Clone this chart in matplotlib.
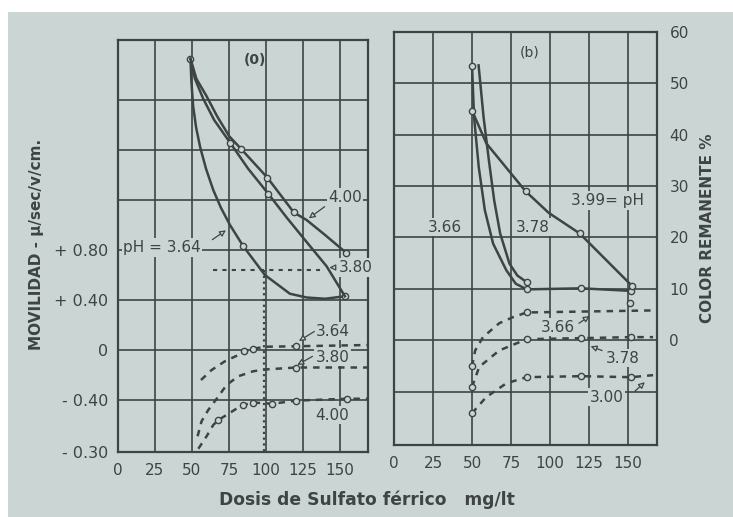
#!/usr/bin/env python3
"""Movilidad y color remanente vs dosis de sulfato ferrico (figura escaneada)."""
import matplotlib.pyplot as plt
from matplotlib.patches import Rectangle

PAPER = "#cbd6d4"
INK = "#3e4444"
plt.rcParams["font.family"] = ["DejaVu Sans"]

# ---- panel (a): movilidad, curvas solidas ----
a364_x = [49, 49.6, 50.8, 52.8, 55.6, 59.5, 64.4, 69.5, 75.7, 84.7, 99.3, 116.2,
          127.5, 140, 153.4]
a364_y = [2.33, 2.15, 1.95, 1.78, 1.62, 1.45, 1.28, 1.14, 1.00, 0.83, 0.60, 0.45,
          0.42, 0.41, 0.43]
a364_mk = [0, 9, 14]
a380_x = [49, 52, 57.6, 65, 75.7, 88, 101.6, 114, 126.4, 141, 153.4]
a380_y = [2.33, 2.17, 2.01, 1.84, 1.66, 1.45, 1.25, 1.06, 0.88, 0.67, 0.43]
a380_mk = [4, 6]
a400_x = [49, 53, 59.9, 67, 75.2, 83.1, 100.9, 118.9, 127.5, 140, 154]
a400_y = [2.33, 2.17, 2.03, 1.87, 1.71, 1.61, 1.38, 1.10, 1.04, 0.92, 0.78]
a400_mk = [5, 6, 7, 10]

# lineas punteadas de referencia
ref_h_x = [64, 136.5]
ref_h_y = [0.64, 0.64]
ref_v_x = [99, 99]
ref_v_y = [0.64, -0.816]

# ---- panel (a): movilidad, curvas discontinuas ----
m364_x = [56.1, 63.3, 72.3, 81.3, 85.3, 91.4, 99.3, 120.3, 170]
m364_y = [-0.24, -0.16, -0.09, -0.04, -0.01, 0.01, 0.026, 0.03, 0.04]
m364_mk = [4, 5, 7]
m380_x = [53.8, 56.5, 61, 66.7, 73.4, 81.3, 91.4, 100.5, 120.3, 170]
m380_y = [-0.69, -0.57, -0.48, -0.39, -0.28, -0.21, -0.17, -0.155, -0.14, -0.14]
m380_mk = [8]
m400_x = [54.3, 59.9, 64.4, 67.8, 73.4, 81.3, 84.7, 91.4, 104.3, 120.3, 154.7, 170]
m400_y = [-0.79, -0.69, -0.60, -0.56, -0.52, -0.46, -0.44, -0.42, -0.43, -0.405, -0.39, -0.39]
m400_mk = [3, 6, 7, 8, 9, 10]

# ---- panel (b): color remanente ----
b366_x = [50, 51.3, 54.3, 58.2, 63.5, 72, 78, 85, 120, 152]
b366_y = [53.4, 43.4, 33.7, 25.3, 18.8, 13.6, 11.0, 9.9, 10.1, 9.6]
b366_mk = [0, 7, 8, 9]
b378_x = [54.2, 57.4, 60.8, 64.2, 68.0, 74.0, 79.0, 85.0]
b378_y = [53.5, 43.4, 35.0, 27.2, 20.8, 14.9, 12.6, 11.3]
b378_mk = [7]
b399_x = [50, 59.2, 84.3, 99.1, 118.9, 152.4]
b399_y = [44.7, 38.3, 29.0, 24.8, 20.8, 10.6]
b399_mk = [0, 2, 4, 5]
b_extra_x = [151]
b_extra_y = [7.3]

# panel (b) discontinuas
d366_x = [50, 52, 57, 67.4, 76.3, 85, 166]
d366_y = [-5.1, -2.0, 0.6, 3.3, 4.5, 5.4, 5.8]
d366_mk = [0, 5]
d378_x = [50, 54.6, 67.4, 85, 120, 152, 166]
d378_y = [-9.1, -5.2, -2.0, 0.2, 0.4, 0.6, 0.6]
d378_mk = [0, 3, 4, 5]
d300_x = [50, 59, 71.9, 85, 120, 152, 166]
d300_y = [-14.2, -11.1, -8.4, -7.2, -7.0, -7.2, -6.8]
d300_mk = [0, 3, 4, 5]

x_ticks = [0, 25, 50, 75, 100, 125, 150]
a_ytick_pos = [-0.816, -0.4, 0, 0.4, 0.8]
a_ytick_lab = ["- 0.30", "- 0.40", "0", "+ 0.40", "+ 0.80"]
a_grid_y = [-0.4, 0, 0.4, 0.8, 1.2, 1.6, 2.0]
b_ytick_pos = [0, 10, 20, 30, 40, 50, 60]
b_grid_y = [-10, 0, 10, 20, 30, 40, 50]

DASH = (0, (2.6, 2.4))


def curve(ax, xs, ys, mk, ls="-"):
    ax.plot(xs, ys, linestyle=ls, color=INK, lw=1.8, zorder=3,
            marker="o", markevery=mk, ms=4.5, mfc=PAPER, mec=INK, mew=1.0)


def label(ax, x, y, s, **kw):
    ax.text(x, y, s, fontsize=11, color=INK, ha="center", va="center", zorder=5,
            bbox=dict(boxstyle="square,pad=0.1", fc=PAPER, ec="none"), **kw)


def arrow(ax, xy_from, xy_to):
    ax.annotate("", xy=xy_to, xytext=xy_from, zorder=5,
                arrowprops=dict(arrowstyle="-|>", color=INK, lw=0.9,
                                mutation_scale=9, fc=PAPER))


def frame(ax, xlim, ylim, grid_y):
    ax.set_facecolor("none")
    ax.set_xlim(*xlim)
    ax.set_ylim(*ylim)
    for x in x_ticks[1:]:
        ax.axvline(x, color=INK, lw=1.2, zorder=1)
    for y in grid_y:
        ax.axhline(y, color=INK, lw=1.2, zorder=1)
    for sp in ax.spines.values():
        sp.set_linewidth(1.6)
        sp.set_color(INK)
    ax.set_xticks(x_ticks)
    ax.set_xticklabels([str(v) for v in x_ticks])
    ax.tick_params(length=0, labelsize=11, labelcolor=INK, pad=8)


fig = plt.figure(figsize=(7.33, 5.17), dpi=100)
fig.patch.set_facecolor("white")
paper = Rectangle((8 / 733, 0), 1, 1 - 12 / 517, transform=fig.transFigure,
                  fc=PAPER, ec="none", zorder=-10)
fig.add_artist(paper)

# ---------------- panel (a) ----------------
ax_a = fig.add_axes([118 / 733, 1 - 452 / 517, 250 / 733, 412 / 517])
frame(ax_a, (0, 169), (-0.816, 2.48), a_grid_y)
ax_a.set_yticks(a_ytick_pos)
ax_a.set_yticklabels(a_ytick_lab)
ax_a.tick_params(axis="y", pad=7, labelsize=11.5)

curve(ax_a, a364_x, a364_y, a364_mk)
curve(ax_a, a380_x, a380_y, a380_mk)
curve(ax_a, a400_x, a400_y, a400_mk)
ax_a.plot(ref_h_x, ref_h_y, color=INK, lw=1.5, linestyle=(0, (2, 2.5)), zorder=2)
ax_a.plot(ref_v_x, ref_v_y, color=INK, lw=1.6, linestyle=(0, (1, 1.6)), zorder=2)
curve(ax_a, m364_x, m364_y, m364_mk, ls=DASH)
curve(ax_a, m380_x, m380_y, m380_mk, ls=DASH)
curve(ax_a, m400_x, m400_y, m400_mk, ls=DASH)

ax_a.text(92.6, 2.32, "(0)", fontsize=10, fontweight="bold", color=INK,
          ha="center", va="center")
label(ax_a, 153.4, 1.22, "4.00")
arrow(ax_a, (141.2, 1.16), (127.5, 1.04))
ax_a.text(3.4, 0.82, "pH = 3.64", fontsize=11, color=INK, ha="left", va="center",
          zorder=5, bbox=dict(boxstyle="square,pad=0.1", fc=PAPER, ec="none"))
arrow(ax_a, (62.2, 0.87), (74.5, 0.97))
label(ax_a, 160.5, 0.66, "3.80")
arrow(ax_a, (148.5, 0.66), (141, 0.66))
label(ax_a, 145.3, 0.15, "3.64")
arrow(ax_a, (134.3, 0.16), (120.7, 0.06))
label(ax_a, 145.3, -0.056, "3.80")
arrow(ax_a, (133.1, -0.04), (119.6, -0.13))
label(ax_a, 144.6, -0.52, "4.00")

# ---------------- panel (b) ----------------
ax_b = fig.add_axes([394 / 733, 1 - 445 / 517, 263 / 733, 413 / 517])
frame(ax_b, (0, 168.5), (-20.4, 60), b_grid_y)
ax_b.yaxis.tick_right()
ax_b.set_yticks(b_ytick_pos)
ax_b.set_yticklabels([str(v) for v in b_ytick_pos])
ax_b.tick_params(axis="y", pad=9)

curve(ax_b, b366_x, b366_y, b366_mk)
curve(ax_b, b378_x, b378_y, b378_mk)
curve(ax_b, b399_x, b399_y, b399_mk)
ax_b.plot(b_extra_x, b_extra_y, "o", ms=4.5, mfc=PAPER, mec=INK, mew=1.0, zorder=4)
curve(ax_b, d366_x, d366_y, d366_mk, ls=DASH)
curve(ax_b, d378_x, d378_y, d378_mk, ls=DASH)
curve(ax_b, d300_x, d300_y, d300_mk, ls=DASH)

ax_b.text(87.1, 56.0, "(b)", fontsize=10, color=INK, ha="center", va="center")
label(ax_b, 32.7, 22.0, "3.66")
label(ax_b, 89.0, 22.0, "3.78")
label(ax_b, 137.1, 27.2, "3.99= pH")
label(ax_b, 105.1, 2.5, "3.66")
arrow(ax_b, (117, 3.0), (126.8, 5.0))
label(ax_b, 146.7, -3.5, "3.78")
arrow(ax_b, (135, -2.2), (124.3, -1.0))
label(ax_b, 136.4, -11.1, "3.00")
arrow(ax_b, (153, -10.3), (162, -7.8))

# ---------------- rotulos ----------------
fig.text(37 / 733, 1 - 244 / 517, "MOVILIDAD - \u03bc/sec/v/cm.", rotation=90,
         fontsize=11, fontweight="bold", color=INK, ha="center", va="center")
fig.text(708 / 733, 1 - 228 / 517, "COLOR REMANENTE %", rotation=90,
         fontsize=11, fontweight="bold", color=INK, ha="center", va="center")
fig.text(367 / 733, 1 - 500 / 517, "Dosis de Sulfato férrico   mg/lt",
         fontsize=12.3, fontweight="bold", color=INK, ha="center", va="center")

fig.savefig("out.png", dpi=100)
